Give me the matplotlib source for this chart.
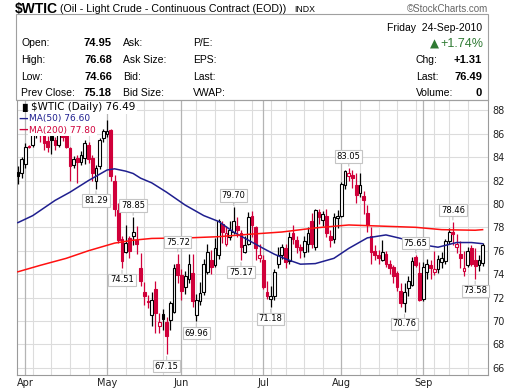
import numpy as np
import pandas as pd
import matplotlib
matplotlib.use('Agg')
import matplotlib.pyplot as plt
from matplotlib.patches import Rectangle

W, H = 520, 391

# trading days shown: 30-Mar-2010 .. 24-Sep-2010 (feed has Good Friday, US holidays out)
holidays = pd.to_datetime(['2010-05-31', '2010-07-05', '2010-09-06'])
dates = pd.bdate_range('2010-03-30', '2010-09-24')
dates = dates[~dates.isin(holidays)]

# daily OHLC
opens = [82.7, 82.6, 83.4, 84.9, 85.0, 86.3, 86.6, 85.9, 85.4, 85.8, 85.5, 85.0, 86.0, 85.9, 84.8, 83.3,
         83.9, 83.6, 83.9, 85.0, 83.9, 82.0, 83.2, 85.6,
         86.0, 86.3, 82.0, 79.5, 77.0, 75.9, 77.1, 77.3, 76.9, 74.5, 72.5, 71.7, 70.5, 72.7, 69.6, 70.6,
         69.9, 70.1, 70.8, 74.9,
         73.9, 72.9, 73.6, 74.1, 70.5, 71.7, 72.5, 74.2, 75.2, 74.8, 75.6, 78.3, 76.6, 77.2, 77.6, 78.1,
         77.5, 75.9, 76.6, 79.0, 78.0, 75.4,
         75.2, 72.5, 71.9, 72.1, 74.9, 75.6, 76.2, 75.1, 77.5, 76.9, 76.3, 75.9, 76.6, 78.5, 76.3, 79.3,
         78.6, 79.0, 77.3, 77.0, 78.8,
         79.0, 81.6, 82.4, 82.5, 81.6, 80.9, 80.7, 79.2, 77.3, 76.0, 75.6, 75.2, 75.7, 74.9, 74.6, 74.1,
         72.6, 71.5, 72.8, 73.1, 75.5, 74.1,
         71.9, 74.2, 74.8, 74.2, 74.4, 75.0, 75.1, 76.8, 77.6, 76.3, 75.7, 74.3, 74.8, 76.2, 75.2, 74.8,
         74.95]
highs = [83.2, 84.0, 85.2, 85.0, 86.6, 87.0, 86.9, 86.0, 85.8, 86.0, 85.7, 86.3, 86.2, 86.0, 84.9, 84.1,
         84.2, 84.5, 85.5, 85.3, 84.2, 83.3, 85.6, 86.4,
         87.15, 86.4, 82.5, 80.1, 77.3, 78.2, 77.3, 78.85, 78.1, 75.8, 73.3, 72.2, 72.5, 73.4, 70.7, 71.0,
         70.3, 71.7, 74.9, 75.72,
         74.4, 74.3, 75.7, 75.7, 72.3, 73.3, 75.3, 76.6, 76.1, 77.1, 78.7, 78.5, 78.1, 78.5, 79.70, 78.9,
         77.8, 77.3, 79.3, 79.4, 78.1, 76.6,
         75.6, 73.4, 73.0, 74.4, 76.3, 76.6, 76.6, 77.6, 78.2, 77.3, 76.6, 77.3, 78.0, 79.2, 79.6, 79.6,
         79.4, 79.6, 77.8, 79.2, 79.5,
         81.9, 82.9, 83.05, 82.9, 82.6, 82.6, 81.1, 79.9, 78.0, 76.5, 76.1, 76.9, 76.0, 75.2, 74.8, 74.3,
         73.2, 73.2, 73.8, 75.5, 75.65, 75.0,
         75.0, 75.3, 75.2, 76.0, 75.6, 75.9, 77.0, 77.9, 78.46, 77.4, 76.8, 76.0, 76.3, 76.5, 76.2, 75.6,
         76.68]
lows = [81.7, 82.2, 83.1, 84.8, 84.9, 85.6, 85.3, 84.6, 84.4, 84.3, 84.6, 84.9, 85.4, 84.8, 82.0, 83.1,
        81.8, 83.3, 83.4, 83.5, 82.0, 81.29, 83.0, 85.3,
        85.7, 82.0, 79.0, 76.7, 74.51, 75.8, 75.4, 76.5, 75.7, 73.0, 71.4, 71.1, 69.6, 69.0, 69.0, 69.2,
        67.15, 69.2, 70.7, 73.2,
        71.8, 72.3, 73.2, 71.2, 69.96, 71.4, 72.2, 74.0, 74.0, 74.6, 75.3, 76.7, 76.4, 76.9, 77.4, 77.2,
        75.17, 75.8, 76.5, 77.2, 75.2, 75.0,
        72.7, 71.9, 71.18, 71.8, 74.5, 75.3, 74.5, 74.9, 76.6, 75.8, 75.4, 75.5, 75.9, 76.2, 76.1, 78.3,
        78.1, 77.2, 76.3, 76.7, 77.9,
        78.9, 81.3, 82.0, 81.4, 80.1, 80.6, 79.1, 77.6, 74.9, 75.2, 74.9, 75.1, 74.6, 74.0, 73.2, 72.6,
        71.2, 70.76, 72.1, 73.0, 74.6, 71.7,
        71.7, 73.6, 73.6, 73.9, 74.1, 74.5, 74.9, 76.6, 76.5, 75.8, 74.5, 73.8, 74.6, 74.7, 73.58, 74.3,
        74.66]
closes = [82.4, 83.8, 84.9, 84.87, 86.4, 86.8, 85.9, 85.2, 84.9, 85.5, 85.0, 86.1, 85.7, 84.9, 83.2, 83.8,
          83.6, 84.2, 85.2, 83.8, 82.6, 83.1, 85.5, 86.2,
          86.25, 82.4, 79.6, 76.9, 75.1, 76.7, 76.0, 77.6, 76.6, 73.4, 72.1, 71.6, 71.8, 70.7, 69.9, 70.2,
          68.7, 71.5, 74.5, 73.9,
          72.6, 73.8, 74.9, 71.7, 71.8, 72.4, 74.9, 75.9, 74.6, 76.2, 78.5, 77.6, 77.5, 77.8, 78.5, 77.8,
          76.3, 76.5, 78.9, 78.2, 76.2, 75.6,
          72.9, 72.1, 72.15, 74.2, 75.6, 76.3, 75.0, 77.2, 77.0, 76.3, 76.1, 76.8, 77.5, 76.6, 79.5, 78.9,
          79.1, 77.5, 76.9, 78.9, 79.0,
          81.7, 82.8, 82.6, 82.2, 80.8, 81.6, 80.3, 78.2, 75.9, 75.6, 75.4, 75.9, 74.9, 74.5, 73.8, 72.9,
          71.5, 72.5, 73.4, 75.1, 74.8, 71.8,
          74.6, 74.9, 74.5, 74.4, 75.3, 75.4, 76.8, 77.6, 77.4, 76.6, 75.4, 74.5, 76.0, 74.9, 74.7, 75.18,
          76.49]

# moving averages (bar index, value)
ma50_bar = [0, 4, 10, 14, 19, 24, 26, 29, 31, 33, 36, 40, 45, 50, 54, 58, 62, 66, 69, 72, 76, 80,
            85, 89, 94, 99, 103, 109, 113, 118, 122, 125]
ma50_val = [78.4, 79.0, 80.3, 81.0, 82.0, 82.9, 83.0, 82.8, 82.6, 82.2, 81.8, 81.0, 79.9, 79.0, 78.5,
            77.6, 76.9, 76.2, 75.7, 75.3, 74.85, 74.9, 75.35, 76.2, 77.1, 77.35, 77.05, 76.5, 76.3,
            76.7, 76.7, 76.6]
ma200_bar = [0, 6, 13, 19, 26, 31, 36, 46, 54, 62, 71, 80, 89, 98, 107, 114, 123, 125]
ma200_val = [74.2, 74.75, 75.35, 76.0, 76.65, 76.9, 77.05, 77.1, 77.2, 77.4, 77.6, 77.95, 78.2, 78.1,
             78.0, 77.8, 77.75, 77.8]

# labelled swing highs / lows
high_bars = [31, 43, 58, 89, 107, 117]
low_bars = [21, 28, 40, 48, 60, 68, 104, 123]

opens, highs, lows, closes = map(np.array, (opens, highs, lows, closes))
x = np.arange(len(dates))
red = '#d0003a'

fig = plt.figure(figsize=(W / 100, H / 100), dpi=100)


def fx(px):
    return px / W


def fy(py):
    return 1 - py / H


# ---- header ----
hdr = 'Liberation Sans'
fig.text(fx(15), fy(9), '$WTIC', family=hdr, fontsize=10, weight='bold', va='center')
fig.text(fx(60.5), fy(9.5), '(Oil - Light Crude - Continuous Contract (EOD))', family=hdr,
         fontsize=7.7, va='center')
fig.text(fx(294), fy(9.5), 'INDX', family=hdr, fontsize=6.3, va='center')
fig.text(fx(488), fy(9.5), '\u00a9StockCharts.com', family=hdr, fontsize=7, color='#666666',
         ha='right', va='center')
fig.patches.append(Rectangle((fx(16), fy(100)), fx(472), 86 / H, transform=fig.transFigure,
                             fill=False, ec='#a0a0a0', lw=0.8))

rows_y = [43, 60, 77, 93]
left_lab = ['Open:', 'High:', 'Low:', 'Prev Close:']
left_val = ['74.95', '76.68', '74.66', '75.18']
mid_lab = ['Ask:', 'Ask Size:', 'Bid:', 'Bid Size:']
pe_lab = ['P/E:', 'EPS:', 'Last:', 'VWAP:']
for yy, a, b, c, d in zip(rows_y, left_lab, left_val, mid_lab, pe_lab):
    fig.text(fx(21), fy(yy), a, family=hdr, fontsize=7.5, va='center')
    fig.text(fx(112), fy(yy), b, family=hdr, fontsize=8, weight='bold', va='center', ha='right')
    fig.text(fx(123), fy(yy), c, family=hdr, fontsize=7.5, va='center')
    fig.text(fx(193), fy(yy), d, family=hdr, fontsize=7.5, va='center')

fig.text(fx(482), fy(28), 'Friday  24-Sep-2010', family=hdr, fontsize=7.5, ha='right', va='center')
green = '#2f7a33'
fig.text(fx(483), fy(44), '+1.74%', family=hdr, fontsize=9, color=green, ha='right', va='center')
fig.text(fx(430), fy(44), '\u25b2', family='DejaVu Sans', fontsize=8.5, color=green, ha='left',
         va='center')
right_lab = ['Chg:', 'Last:', 'Volume:']
right_val = ['+1.31', '76.49', '0']
for yy, a, b in zip(rows_y[1:], right_lab, right_val):
    fig.text(fx(416), fy(yy), a, family=hdr, fontsize=7.5, va='center')
    fig.text(fx(482), fy(yy), b, family=hdr, fontsize=8, weight='bold', ha='right', va='center')

# ---- price panel ----
ax = fig.add_axes([fx(17), fy(375), fx(471), 275 / H])
ax.set_xlim(-0.24, 126.45)
ax.set_ylim(65.38, 88.88)

for lvl in range(66, 89, 2):
    ax.axhline(lvl, color='#dcdcdc', lw=0.8, zorder=0)

wk = dates.isocalendar().week.values
week_start = [i for i in range(1, len(dates)) if wk[i] != wk[i - 1]]
month_start = [i for i in range(1, len(dates)) if dates[i].month != dates[i - 1].month]
for i in week_start:
    if i not in month_start:
        ax.axvline(i, color='#dcdcdc', lw=0.8, zorder=0)
for i in month_start:
    ax.axvline(i, color='#b4b4b4', lw=0.9, zorder=0)

prev = np.r_[closes[0], closes[:-1]]
col = np.where(closes >= prev, 'black', red)
face = np.where(closes >= opens, 'white', col)
ax.vlines(x, lows, highs, colors=col, lw=0.9, zorder=3)
body = np.maximum(np.abs(closes - opens), 0.06)
ax.bar(x, body, bottom=np.minimum(opens, closes), width=0.74, color=face, edgecolor=col,
       linewidth=0.8, zorder=4)

ax.plot(ma50_bar, ma50_val, color='#1f1f8f', lw=1.1, zorder=5)
ax.plot(ma200_bar, ma200_val, color='#ff1010', lw=1.1, zorder=5)

lbl_box = dict(boxstyle='square,pad=0.2', fc='white', ec='#c4c4c4', lw=0.8)
for i in high_bars:
    ax.annotate(f'{highs[i]:.2f}', xy=(i, highs[i]), xytext=(0, 8.5), textcoords='offset points',
                ha='center', va='center', fontsize=6, bbox=lbl_box, zorder=7,
                arrowprops=dict(arrowstyle='-', color='#c4c4c4', lw=0.8, shrinkA=0, shrinkB=1.5))
for i in low_bars:
    ax.annotate(f'{lows[i]:.2f}', xy=(i, lows[i]), xytext=(0, -8.5), textcoords='offset points',
                ha='center', va='center', fontsize=6, bbox=lbl_box, zorder=7,
                arrowprops=dict(arrowstyle='-', color='#c4c4c4', lw=0.8, shrinkA=0, shrinkB=1.5))

ax.yaxis.tick_right()
ax.set_yticks(range(66, 89, 2))
tick_bars = [2] + month_start[1:]
ax.set_xticks(tick_bars)
ax.set_xticklabels([d.strftime('%b') for d in dates[tick_bars]])
ax.tick_params(axis='both', length=0, labelsize=7, colors='#222222')
ax.tick_params(axis='y', pad=3)
ax.tick_params(axis='x', pad=2.5)
for s in ax.spines.values():
    s.set_color('#9a9a9a')
    s.set_linewidth(0.8)

# legend block, top-left of the panel
leg_box = dict(boxstyle='square,pad=0.15', fc='white', ec='none')
fig.text(fx(19), fy(107.5), '\u2590\u258c', fontsize=5.5, va='center', zorder=8)
fig.text(fx(31), fy(107.5), '$WTIC (Daily) 76.49', fontsize=7.5, va='center', bbox=leg_box, zorder=8)
fig.text(fx(18.5), fy(119), '\u2014', fontsize=8, weight='bold', color='#1f1f8f', va='center', zorder=8)
fig.text(fx(29), fy(119), 'MA(50) 76.60', fontsize=6.5, color='#1f1f8f', va='center', bbox=leg_box,
         zorder=8)
fig.text(fx(18.5), fy(130), '\u2014', fontsize=8, weight='bold', color=red, va='center', zorder=8)
fig.text(fx(29), fy(130), 'MA(200) 77.80', fontsize=6.5, color=red, va='center', bbox=leg_box,
         zorder=8)

fig.savefig('out.png', dpi=100)
